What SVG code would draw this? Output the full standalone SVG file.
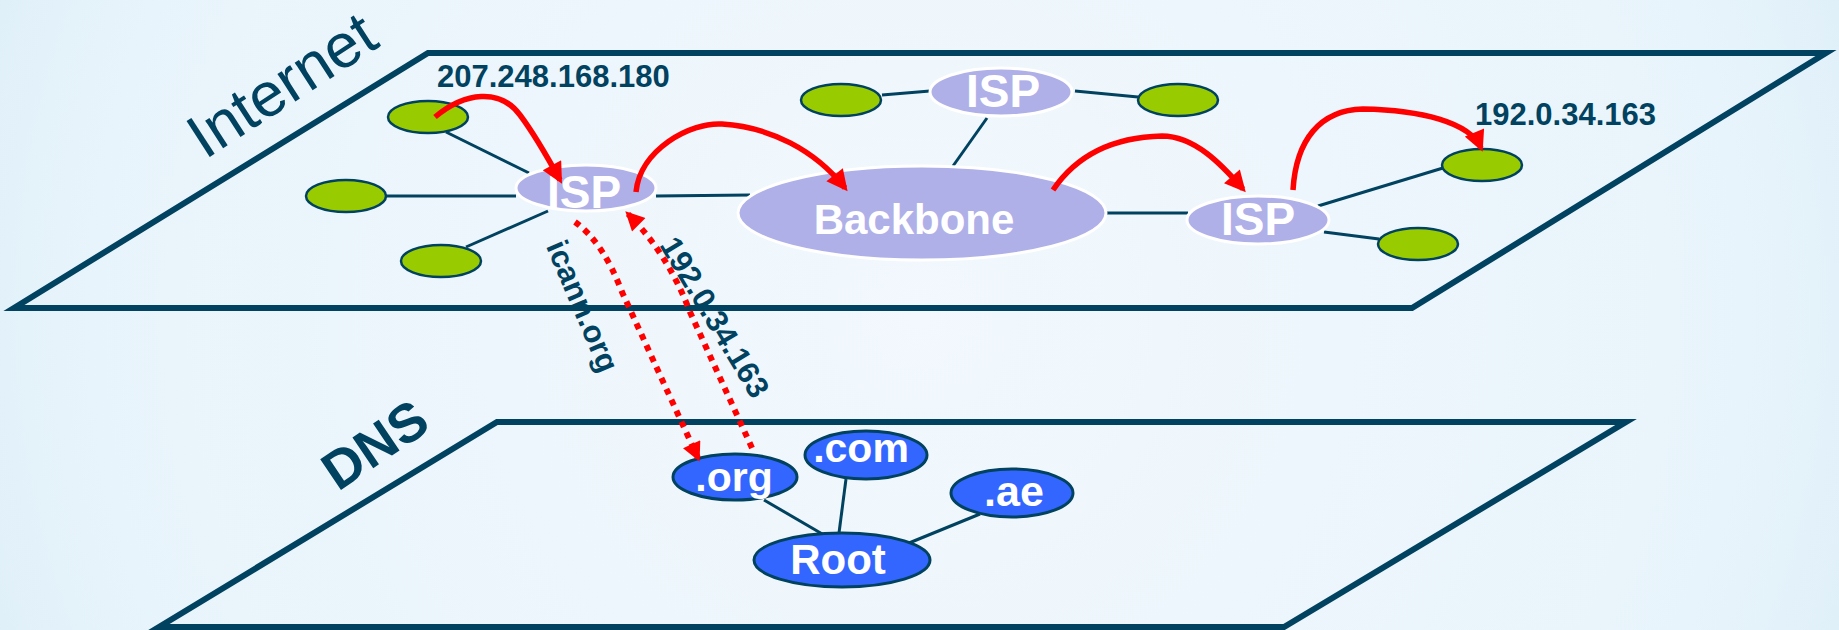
<svg xmlns="http://www.w3.org/2000/svg" width="1839" height="630" viewBox="0 0 1839 630">
<defs>
<radialGradient id="bg" cx="0.5" cy="0.5" r="0.75" gradientTransform="translate(0.5 0.5) scale(1 2.9) translate(-0.5 -0.5)">
<stop offset="0" stop-color="#f2f8fd"/>
<stop offset="0.6" stop-color="#e8f4fb"/>
<stop offset="1" stop-color="#c8e4f4"/>
</radialGradient>
<marker id="ah" viewBox="0 0 10 10" refX="8" refY="5" markerUnits="userSpaceOnUse" markerWidth="23" markerHeight="21" orient="auto">
<path d="M0,0 L10,5 L0,10 z" fill="#ff0000"/>
</marker>
<marker id="ahd" viewBox="0 0 10 10" refX="8" refY="5" markerUnits="userSpaceOnUse" markerWidth="21" markerHeight="19" orient="auto">
<path d="M0,0 L10,5 L0,10 z" fill="#ff0000"/>
</marker>
</defs>
<style>
.plane{fill:none;stroke:#00425f;stroke-width:6;stroke-linejoin:miter}
.link{stroke:#00425f;stroke-width:3;fill:none}
.host{fill:#99cc00;stroke:#00425f;stroke-width:2.5}
.isp{fill:#b0b0e8;stroke:#ffffff;stroke-width:3}
.dns{fill:#3366ff;stroke:#00425f;stroke-width:3}
.nt{font-family:"Liberation Sans",Arial,sans-serif;font-weight:bold;fill:#ffffff;text-anchor:middle}
.lbl{font-family:"Liberation Sans",Arial,sans-serif;font-weight:bold;fill:#00425f}
.red{stroke:#ff0000;stroke-width:5.5;fill:none;marker-end:url(#ah)}
.dot{stroke:#ff0000;stroke-width:6;fill:none;stroke-dasharray:6 6;marker-end:url(#ahd)}
</style>
<rect x="0" y="0" width="1839" height="630" fill="url(#bg)"/>

<g id="internet-plane">
<polygon class="plane" points="428,53 1826,53 1412,308 14,308"/>
<text transform="translate(205,160) rotate(-33)" x="0" y="0" font-family="Liberation Sans, Arial, sans-serif" font-size="62" fill="#00425f">Internet</text>
</g>
<g id="dns-plane">
<polygon class="plane" points="497,422 1626,422 1284,627 159,627"/>
<text transform="translate(338,492) rotate(-34)" x="0" y="0" class="lbl" font-size="54">DNS</text>
</g>

<g id="connectors">
<line class="link" x1="446" y1="132" x2="529" y2="173"/>
<line class="link" x1="386" y1="196" x2="516" y2="196"/>
<line class="link" x1="466" y1="247" x2="548" y2="211"/>
<line class="link" x1="656" y1="196" x2="750" y2="195"/>
<line class="link" x1="987" y1="118" x2="953" y2="166"/>
<line class="link" x1="882" y1="95" x2="930" y2="91"/>
<line class="link" x1="1075" y1="91" x2="1138" y2="97"/>
<line class="link" x1="1106" y1="213" x2="1188" y2="213"/>
<line class="link" x1="1318" y1="206" x2="1443" y2="168"/>
<line class="link" x1="1324" y1="232" x2="1379" y2="239"/>
<line class="link" x1="764" y1="500" x2="824" y2="535"/>
<line class="link" x1="846" y1="479" x2="839" y2="533"/>
<line class="link" x1="980" y1="514" x2="909" y2="543"/>
</g>

<g id="host1"><ellipse class="host" cx="428" cy="117" rx="40" ry="16"/></g>
<g id="host2"><ellipse class="host" cx="346" cy="196" rx="40" ry="16"/></g>
<g id="host3"><ellipse class="host" cx="441" cy="261" rx="40" ry="16"/></g>
<g id="host4"><ellipse class="host" cx="841" cy="100" rx="40" ry="16"/></g>
<g id="host5"><ellipse class="host" cx="1178" cy="100" rx="40" ry="16"/></g>
<g id="host6"><ellipse class="host" cx="1482" cy="165" rx="40" ry="16"/></g>
<g id="host7"><ellipse class="host" cx="1418" cy="244" rx="40" ry="16"/></g>

<g id="isp-left"><ellipse class="isp" cx="586" cy="188" rx="70" ry="23"/><text class="nt" x="584" y="208" font-size="46">ISP</text></g>
<g id="isp-top"><ellipse class="isp" cx="1001" cy="92" rx="71" ry="24"/><text class="nt" x="1003" y="107" font-size="46">ISP</text></g>
<g id="isp-right"><ellipse class="isp" cx="1258" cy="220" rx="71" ry="24"/><text class="nt" x="1258" y="235" font-size="46">ISP</text></g>
<g id="backbone"><ellipse class="isp" cx="922" cy="213" rx="184" ry="47"/><text class="nt" x="914" y="234" font-size="42">Backbone</text></g>

<g id="dns-org"><ellipse class="dns" cx="735" cy="477" rx="62" ry="23"/><text class="nt" x="734" y="491" font-size="41">.org</text></g>
<g id="dns-com"><ellipse class="dns" cx="866" cy="455" rx="61" ry="24"/><text class="nt" x="861" y="462" font-size="41">.com</text></g>
<g id="dns-ae"><ellipse class="dns" cx="1012" cy="493" rx="61" ry="24"/><text class="nt" x="1014" y="506" font-size="43">.ae</text></g>
<g id="dns-root"><ellipse class="dns" cx="842" cy="560" rx="88" ry="27"/><text class="nt" x="838" y="574" font-size="42">Root</text></g>

<g id="flows">
<path class="red" d="M435,117 C465,92 500,88 520,115 C535,135 548,158 560,180"/>
<path class="red" d="M636,192 C640,150 690,122 722,124 C770,127 815,150 845,188"/>
<path class="red" d="M1053,190 C1080,150 1120,137 1162,136 C1195,136 1222,165 1243,189"/>
<path class="red" d="M1293,190 C1296,140 1320,110 1363,109 C1420,110 1470,122 1481,148"/>
<path class="dot" d="M575,222 Q603,242 622,292 L698,458"/>
<path class="dot" d="M752,448 L690,312 Q668,254 628,214"/>
</g>

<g id="labels">
<text class="lbl" x="437" y="87" font-size="31">207.248.168.180</text>
<text class="lbl" x="1475" y="125" font-size="31">192.0.34.163</text>
<text class="lbl" transform="translate(583,306) rotate(67)" x="0" y="0" dy="0.35em" text-anchor="middle" font-size="31">icann.org</text>
<text class="lbl" transform="translate(715,317) rotate(59)" x="0" y="0" dy="0.35em" text-anchor="middle" font-size="31">192.0.34.163</text>
</g>
</svg>
